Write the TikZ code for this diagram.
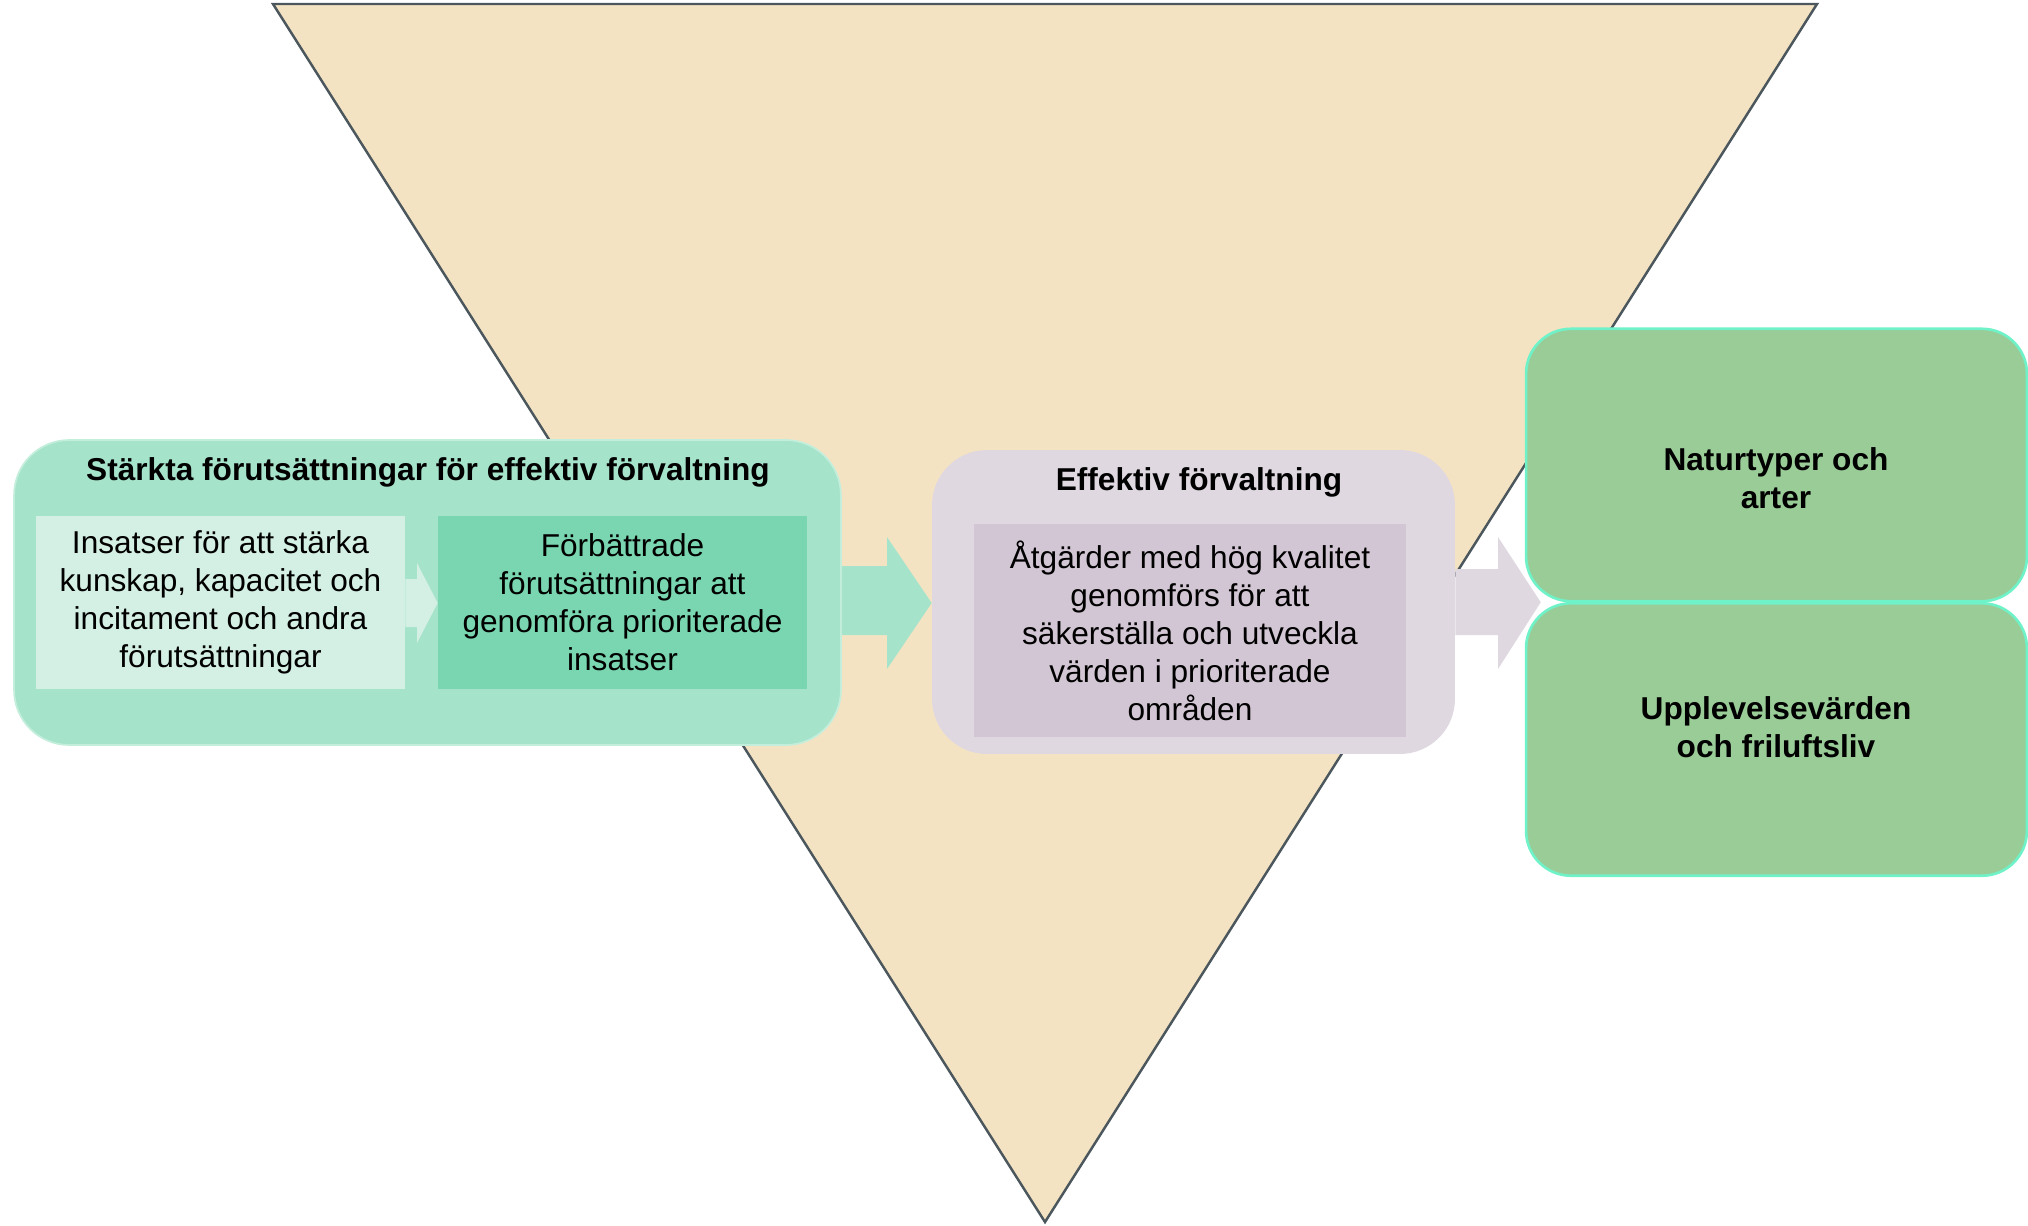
\documentclass[tikz,border=0pt]{standalone}
\usepackage{fontspec}
\setmainfont{Liberation Sans}
\usetikzlibrary{calc}

\definecolor{sand}{HTML}{F4E3C3}
\definecolor{edge}{HTML}{4B575C}
\definecolor{mint}{HTML}{A6E3CB}
\definecolor{mintrim}{HTML}{C4EEDC}
\definecolor{mintpale}{HTML}{D4F0E4}
\definecolor{mintdeep}{HTML}{7AD6B0}
\definecolor{lilac}{HTML}{DFD8E1}
\definecolor{lilacdeep}{HTML}{D3C6D4}
\definecolor{leaf}{HTML}{9ACC98}
\definecolor{aqua}{HTML}{70F2C8}

\begin{document}
\begin{tikzpicture}[x=0.02cm, y=-0.02cm,
		txt/.style={font=\fontsize{18}{21.6}\selectfont, align=center, inner sep=0pt},
		head/.style={txt, font=\fontsize{18}{21.6}\selectfont\bfseries},
		panel/.style={rounded corners=1.1cm, inner sep=0pt},
		leafbox/.style={rounded corners=0.9cm, fill=leaf, draw=aqua, line width=1.5pt,
			minimum width=10.02cm, minimum height=5.45cm, inner sep=0pt}]

			\useasboundingbox (0,0) rectangle (2028,1225);

			\draw[edge, fill=sand, line width=1.4pt] (273,4) -- (1817,4) -- (1045,1222) -- cycle;

			\node[panel, fill=mint, draw=mintrim, line width=1pt, minimum width=16.54cm, minimum height=6.1cm] (staerk) at (427.5,592.5) {};
			\node[head] (staerktitel) at (428,472) {Stärkta förutsättningar för effektiv förvaltning};
			\node[txt, fill=mintpale, minimum width=7.38cm, minimum height=3.46cm] (insats) at (220.5,602.5)
				{Insatser för att stärka\\kunskap, kapacitet och\\incitament och andra\\förutsättningar};
			\node[txt, fill=mintdeep, minimum width=7.38cm, minimum height=3.46cm] (battre) at (622.5,602.5)
				{Förbättrade\\förutsättningar att\\genomföra prioriterade\\insatser};

			\fill[mintpale] (insats.east |- 0,579) -- (417,579) -- (417,563) -- (battre.west |- 0,603)
				-- (417,643) -- (417,627) -- (insats.east |- 0,627) -- cycle;

			\node[panel, fill=lilac, minimum width=10.46cm, minimum height=6.08cm] (effektiv) at (1193.5,602) {};
			\node[head] (effektivtitel) at (1199,482) {Effektiv förvaltning};
			\node[txt, fill=lilacdeep, minimum width=8.64cm, minimum height=4.26cm] (atgard) at (1190,630.5)
				{Åtgärder med hög kvalitet\\genomförs för att\\säkerställa och utveckla\\värden i prioriterade\\områden};

			\node[leafbox] (natur) at (1776.5,465) {};
			\node[leafbox] (friluft) at (1776.5,739.5) {};
			\node[head] (naturtext) at (1776,478) {Naturtyper och\\arter};
			\node[head] (friluftext) at (1776,727) {Upplevelsevärden\\och friluftsliv};

			\fill[mint] (staerk.east |- 0,566) -- (887,566) -- (887,537) -- (effektiv.west |- 0,603)
				-- (887,669) -- (887,635) -- (staerk.east |- 0,635) -- cycle;

			\fill[lilac] (effektiv.east |- 0,569) -- (1498,569) -- (1498,537)
				-- ($(natur.south west)!0.5!(friluft.north west)+(16,0)$)
				-- (1498,669) -- (1498,635) -- (effektiv.east |- 0,635) -- cycle;
		\end{tikzpicture}
\end{document}
